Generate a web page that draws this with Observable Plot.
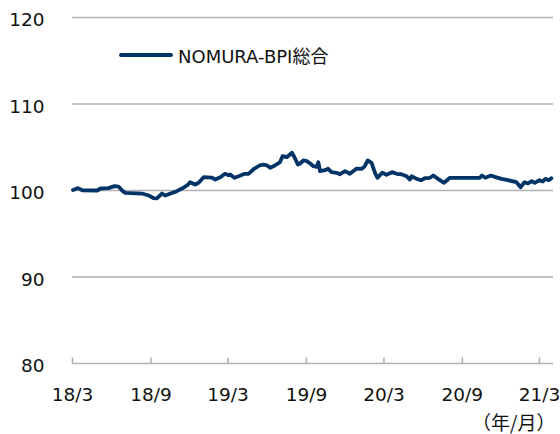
<!DOCTYPE html>
<html>
<head>
<meta charset="utf-8">
<script src="https://cdn.jsdelivr.net/npm/d3@7"></script>
<script src="https://cdn.jsdelivr.net/npm/@observablehq/plot@0.6"></script>
<style>
  body { margin: 0; background: #fff; }
  #wrap { position: relative; width: 560px; height: 434px; }
  #legend { position: absolute; left: 119px; top: 45px; height: 20px; display: flex; align-items: center;
            font-family: 'DejaVu Sans', 'Noto Sans CJK JP', sans-serif; font-size: 18px; color: #111; }
  #legend .sw { display: inline-block; width: 54px; height: 4px; background: #003366; border-radius: 2px; margin-right: 5px; }
</style>
</head>
<body>
<div id="wrap">
  <div id="legend"><span class="sw"></span><span id="legtext"></span></div>
</div>
<script>
const seriesName = "NOMURA-BPI総合";
const unitLabel = "（年/月）";
const yTicks = [80, 90, 100, 110, 120];
const xTickDates = ["2018-03-01", "2018-09-01", "2019-03-01", "2019-09-01", "2020-03-01", "2020-09-01", "2021-03-01"];

const dates = [
  "2018-03-02","2018-03-14","2018-03-24","2018-04-28","2018-05-06","2018-05-24","2018-06-08","2018-06-17",
  "2018-06-27","2018-07-03","2018-08-11","2018-08-27","2018-09-07","2018-09-15","2018-09-27","2018-10-05",
  "2018-10-17","2018-11-01","2018-11-13","2018-11-25","2018-12-02","2018-12-14","2018-12-22","2019-01-03",
  "2019-01-22","2019-01-30","2019-02-11","2019-02-22","2019-03-02","2019-03-06","2019-03-16","2019-03-26",
  "2019-04-09","2019-04-18","2019-04-30","2019-05-15","2019-05-23","2019-05-31","2019-06-08","2019-06-20",
  "2019-07-01","2019-07-07","2019-07-17","2019-07-29","2019-08-04","2019-08-12","2019-08-17","2019-08-25",
  "2019-09-02","2019-09-10","2019-09-17","2019-09-25","2019-09-29","2019-10-03","2019-10-15","2019-10-22",
  "2019-10-30","2019-11-11","2019-11-19","2019-12-01","2019-12-12","2019-12-28","2020-01-09","2020-01-15",
  "2020-01-23","2020-02-01","2020-02-09","2020-02-15","2020-02-26","2020-03-07","2020-03-20","2020-03-31",
  "2020-04-11","2020-04-23","2020-05-01","2020-05-05","2020-05-17","2020-05-27","2020-06-05","2020-06-17",
  "2020-06-25","2020-07-06","2020-07-20","2020-08-03","2020-10-12","2020-10-17","2020-10-25","2020-11-07",
  "2020-11-16","2020-12-02","2020-12-17","2021-01-06","2021-01-16","2021-01-25","2021-02-02","2021-02-11",
  "2021-02-18","2021-03-01","2021-03-09","2021-03-15","2021-03-23","2021-03-29"
];
const values = [
  100.06,100.27,100.03,100.00,100.23,100.27,100.50,100.46,
  99.92,99.73,99.65,99.42,99.11,99.08,99.65,99.42,
  99.65,99.92,100.23,100.58,100.96,100.69,100.89,101.54,
  101.50,101.27,101.54,101.93,101.77,101.85,101.47,101.65,
  101.93,101.93,102.46,102.92,103.00,102.92,102.62,102.92,
  103.27,103.97,103.85,104.36,103.85,103.00,103.12,103.47,
  103.39,103.12,102.81,102.74,103.27,102.23,102.35,102.51,
  102.12,102.05,101.88,102.23,101.93,102.54,102.51,102.74,
  103.47,103.20,102.05,101.47,102.05,101.82,102.12,101.93,
  101.88,101.65,101.27,101.65,101.35,101.19,101.42,101.47,
  101.73,101.35,100.89,101.47,101.47,101.73,101.47,101.73,
  101.58,101.35,101.19,100.96,100.38,100.96,100.81,101.08,
  100.89,101.19,101.04,101.35,101.19,101.42
];

const data = dates.map((d, i) => ({date: new Date(d), value: values[i]}));
const xTicks = xTickDates.map(d => new Date(d));
const gridColor = "#b2b2b2";
const lineColor = "#003366";

document.getElementById("legtext").textContent = seriesName;

const chart = Plot.plot({
  width: 560,
  height: 434,
  marginLeft: 72,
  marginRight: 7,
  marginTop: 17,
  marginBottom: 71,
  style: {fontFamily: "'DejaVu Sans', 'Noto Sans CJK JP', sans-serif", fontSize: "18.5px", color: "#111", background: "#fff"},
  x: {type: "utc", domain: [new Date("2018-03-01"), new Date("2021-04-03")]},
  y: {domain: [80, 120]},
  marks: [
    Plot.ruleY(yTicks, {stroke: gridColor, strokeWidth: 1.6}),
    Plot.ruleX(xTicks, {y1: 80, y2: 80.65, stroke: gridColor, strokeWidth: 1.6}),
    Plot.axisY({ticks: yTicks, tickSize: 0, tickPadding: 28, dy: 3, label: null, fontSize: 18.5}),
    Plot.axisX({ticks: xTicks, tickSize: 0, tickPadding: 24, label: null, fontSize: 18.5, tickFormat: d3.utcFormat("%y/%-m")}),
    Plot.lineY(data, {x: "date", y: "value", stroke: lineColor, strokeWidth: 3.8, strokeLinejoin: "round", strokeLinecap: "round"}),
    Plot.text([unitLabel], {frameAnchor: "bottom-right", lineAnchor: "middle", textAnchor: "end", dx: 2, dy: 60, fontSize: 19, fontFamily: "'Noto Sans CJK JP', sans-serif"})
  ]
});
document.getElementById("wrap").prepend(chart);
</script>
</body>
</html>
